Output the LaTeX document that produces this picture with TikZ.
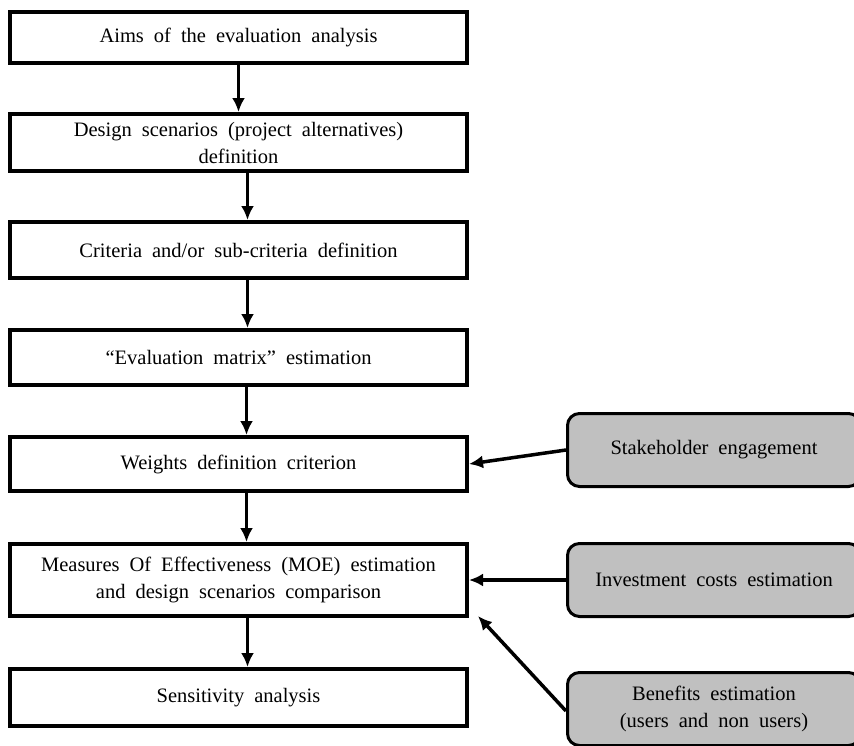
\documentclass[tikz,border=0pt]{standalone}
\usepackage{fontspec}
\setmainfont{Liberation Serif}
\usepackage{xcolor}
\usetikzlibrary{arrows.meta}
\definecolor{inputgray}{HTML}{C0C0C0}
\newcommand{\flowfont}{\fontsize{20.5}{27}\selectfont\setlength{\spaceskip}{10pt plus 2pt}}

\begin{document}
\begin{tikzpicture}[x=1pt,y=-1pt,
  stepbox/.style={draw, line width=4pt, minimum width=457pt, align=center, inner sep=0pt, font=\flowfont},
  inputbox/.style={draw, line width=3pt, rounded corners=12pt, fill=inputgray, minimum width=293pt, minimum height=73pt, align=center, inner sep=0pt, font=\flowfont},
  flow/.style={line width=3.5pt, -{Latex[length=14pt,width=13pt]}}]
\clip (0,0) rectangle (854,745);
% Steps
\node[stepbox, minimum height=51pt] (aims) at (238.5,37.5) {Aims of the evaluation analysis};
\node[stepbox, minimum height=57pt] (scen) at (238.5,142.5) {Design scenarios (project alternatives)\\definition};
\node[stepbox, minimum height=56pt] (crit) at (238.5,250) {Criteria and/or sub-criteria definition};
\node[stepbox, minimum height=55pt] (matrix) at (238.5,357.5) {``Evaluation matrix'' estimation};
\node[stepbox, minimum height=54pt] (weights) at (238.5,464) {Weights definition criterion};
\node[stepbox, minimum height=72pt] (moe) at (238.5,580) {Measures Of Effectiveness (MOE) estimation\\and design scenarios comparison};
\node[stepbox, minimum height=57pt] (sens) at (238.5,697.5) {Sensitivity analysis};
% Inputs
\node[inputbox] (stake) at (714,450) {Stakeholder engagement};
\node[inputbox] (cost) at (714,580) {Investment costs estimation};
\node[inputbox] (benef) at (714,709) {Benefits estimation\\(users and non users)};
% Arrows
\draw[flow] (aims.south) -- (scen.north);
\draw[flow] ([xshift=9pt]scen.south) -- ([xshift=9pt]crit.north);
\draw[flow] ([xshift=9pt]crit.south) -- ([xshift=9pt]matrix.north);
\draw[flow] ([xshift=8pt]matrix.south) -- ([xshift=8pt]weights.north);
\draw[flow] ([xshift=8pt]weights.south) -- ([xshift=8pt]moe.north);
\draw[flow] ([xshift=9pt]moe.south) -- ([xshift=9pt]sens.north);
\draw[flow] (stake.west) -- (weights.east);
\draw[flow] (cost.west) -- (moe.east);
\draw[flow] ([yshift=-2pt]benef.west) -- ([xshift=9pt,yshift=2pt]moe.south east);
\end{tikzpicture}
\end{document}
